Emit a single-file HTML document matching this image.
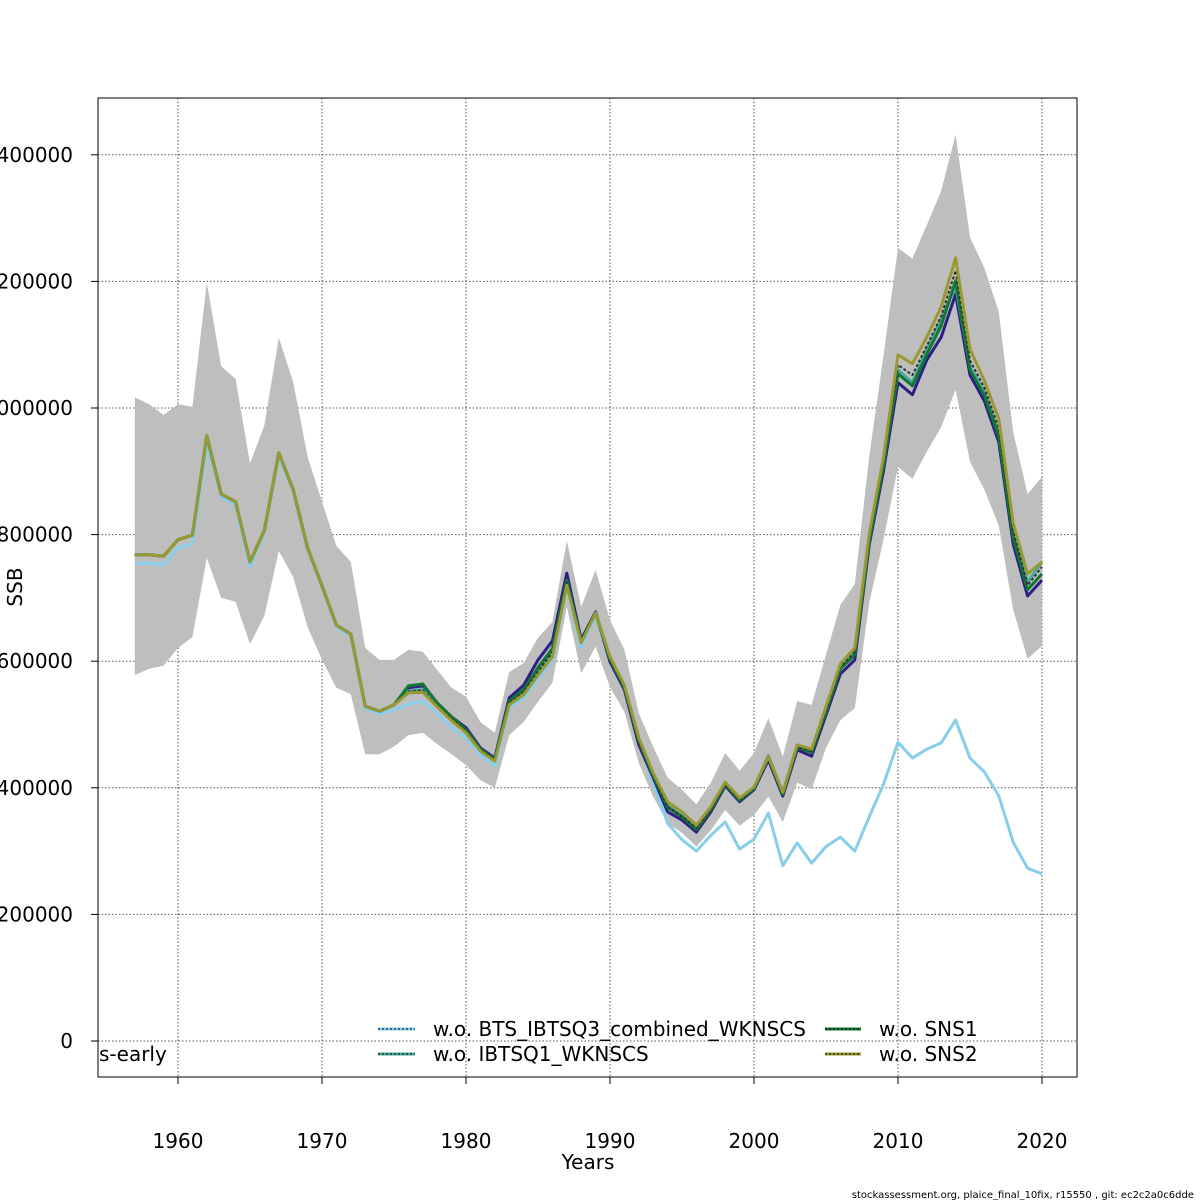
<!DOCTYPE html>
<html><head><meta charset="utf-8"><style>
html,body{margin:0;padding:0;background:#fff}
svg{display:block;font-family:"DejaVu Sans","Liberation Sans",sans-serif}
</style></head><body>
<svg id="chart" width="1200" height="1200" viewBox="0 0 1200 1200" xmlns="http://www.w3.org/2000/svg">
<g id="grid"></g>
<g id="band"></g>
<g id="lines"></g>
<rect x="98" y="98" width="979" height="979" fill="none" stroke="#000" stroke-width="1"/>
<g id="axes" font-size="20" fill="#000"></g>
<text x="588" y="1169" font-size="20" text-anchor="middle">Years</text>
<text transform="translate(22,587) rotate(-90)" font-size="20" text-anchor="middle">SSB</text>
<text x="99" y="1061" font-size="20">s-early</text>
<g font-size="20">
 <g><line x1="378" y1="1029" x2="415" y2="1029" stroke="#87ceeb" stroke-width="3"/><line x1="378" y1="1029" x2="415" y2="1029" stroke="#000" stroke-width="1" stroke-dasharray="2,2"/><text x="433" y="1036">w.o. BTS_IBTSQ3_combined_WKNSCS</text></g>
 <g><line x1="378" y1="1054" x2="415" y2="1054" stroke="#44aa99" stroke-width="3"/><line x1="378" y1="1054" x2="415" y2="1054" stroke="#000" stroke-width="1" stroke-dasharray="2,2"/><text x="433" y="1061">w.o. IBTSQ1_WKNSCS</text></g>
 <g><line x1="825" y1="1029" x2="861" y2="1029" stroke="#117733" stroke-width="3"/><line x1="825" y1="1029" x2="861" y2="1029" stroke="#000" stroke-width="1" stroke-dasharray="2,2"/><text x="879" y="1036">w.o. SNS1</text></g>
 <g><line x1="825" y1="1054" x2="861" y2="1054" stroke="#999933" stroke-width="3"/><line x1="825" y1="1054" x2="861" y2="1054" stroke="#000" stroke-width="1" stroke-dasharray="2,2"/><text x="879" y="1061">w.o. SNS2</text></g>
</g>
<text x="1194" y="1198" font-size="10" text-anchor="end">stockassessment.org, plaice_final_10fix, r15550 , git: ec2c2a0c6dde</text>
</svg>
<script>
// values in thousands of tonnes
const firstYear = 1957;
const xTicks = [1960,1970,1980,1990,2000,2010,2020];
const yTicks = [0,200,400,600,800,1000,1200,1400];
const yTickLabels = ["0","200000","400000","600000","800000","1000000","1200000","1400000"];
const upper = [1017,1006,989,1006,1002,1198,1066,1046,912,973,1111,1041,923,852,782,757,621,602,602,618,615,586,558,544,504,487,583,597,637,662,790,686,744,665,618,518,465,416,397,374,408,455,427,455,510,449,537,531,610,689,722,923,1084,1253,1236,1289,1343,1432,1270,1221,1152,962,864,891];
const lower = [578,588,593,621,638,763,700,694,627,672,774,733,654,602,558,548,453,453,465,483,487,469,453,436,412,400,483,504,536,566,686,581,623,559,520,439,386,344,329,307,333,365,340,357,386,346,408,398,463,507,526,692,793,907,888,931,970,1029,915,871,814,681,604,624];
const baseRun = [768,768,766,792,799,956,864,852,757,807,929,871,779,719,657,643,529,521,531,558,561,534,512,495,463,447,542,562,602,632,739,634,678,599,555,468,416,362,349,330,362,403,378,397,444,387,460,450,515,580,602,784,902,1040,1021,1076,1112,1180,1052,1011,946,785,703,728];
const woBTS = [754,755,752,779,785,943,860,847,749,804,924,867,776,716,654,640,526,517,523,532,537,517,495,479,452,435,526,542,572,602,716,621,673,599,555,472,408,344,318,300,325,346,303,319,360,277,313,281,307,322,300,354,406,472,447,461,471,507,447,425,387,314,273,264];
const woIBTSQ1 = [768,768,766,792,799,956,864,852,757,807,929,871,779,719,657,643,529,521,531,553,555,530,509,490,460,444,535,552,585,615,725,630,677,605,560,476,421,372,356,337,367,407,381,400,451,392,466,459,523,592,615,795,915,1060,1040,1092,1140,1193,1065,1025,960,805,725,757];
const woSNS1 = [768,768,766,792,799,956,864,852,757,807,929,871,779,719,657,643,529,521,531,561,564,534,512,492,461,445,537,555,590,620,728,631,676,603,558,474,419,369,354,334,366,405,380,399,448,390,464,456,520,588,610,790,910,1054,1035,1085,1130,1201,1060,1020,955,795,713,738];
const woSNS2 = [768,768,766,792,799,956,864,852,757,807,929,871,779,719,657,643,529,521,531,550,551,528,506,487,458,442,531,547,578,607,720,629,676,607,562,479,423,378,362,341,370,409,384,401,449,393,468,461,528,596,621,801,923,1084,1070,1112,1160,1237,1093,1043,983,818,738,757];
const woOther = [768,768,766,792,799,956,864,852,757,807,929,871,779,719,657,643,529,521,531,552,554,530,509,490,460,444,534,551,584,614,724,630,677,604,559,475,420,370,355,336,367,406,381,400,450,391,465,458,522,592,614,796,916,1068,1052,1098,1145,1217,1075,1032,968,805,720,749];

const NS='http://www.w3.org/2000/svg';
const xs = yr => 178 + (yr-1960)*14.4;
const ys = v => 1041 - v*126.6/200;
function mk(tag, attrs, parent){const e=document.createElementNS(NS,tag);for(const k in attrs)e.setAttribute(k,attrs[k]);parent.appendChild(e);return e;}
const grid=document.getElementById('grid'), axes=document.getElementById('axes');
xTicks.forEach(t=>{
  const g=mk('line',{x1:xs(t),x2:xs(t),y1:98,y2:1077,stroke:'#555','stroke-width':1,'stroke-dasharray':'1.5,2'},grid);
  
  
  const tk=mk('line',{x1:xs(t),x2:xs(t),y1:1077,y2:1084,stroke:'#000'},axes);
  
  
  const lb=mk('text',{x:xs(t),y:1148,'text-anchor':'middle'},axes);
  lb.textContent=t;
  
  
});
yTicks.forEach((t,i)=>{
  const g=mk('line',{x1:98,x2:1077,y1:ys(t),y2:ys(t),stroke:'#555','stroke-width':1,'stroke-dasharray':'1.5,2'},grid);
  
  
  const tk=mk('line',{x1:91,x2:98,y1:ys(t),y2:ys(t),stroke:'#000'},axes);
  
  
  const lb=mk('text',{x:73,y:ys(t)+7,'text-anchor':'end'},axes);
  lb.textContent=yTickLabels[i];
  
  
});
const band=document.getElementById('band');
let d='';
upper.forEach((v,i)=>{d+=(i?'L':'M')+xs(firstYear+i)+','+ys(v);});
for(let i=lower.length-1;i>=0;i--) d+='L'+xs(firstYear+i)+','+ys(lower[i]);
const bp=mk('path',{d:d+'Z',fill:'#bebebe',stroke:'none'},band);


const linesG=document.getElementById('lines');
function pts(arr){return arr.map((v,i)=>xs(firstYear+i)+','+ys(v)).join(' ');}
const series=[
 [woBTS,'#87ceeb','line-wo-bts',false],
 [baseRun,'#2d1f86','line-base-run',false],
 [woIBTSQ1,'#44aa99','line-wo-ibtsq1',false],
 [woSNS1,'#117733','line-wo-sns1',false],
 [woOther,'#333333','line-wo-other',true],
 [woSNS2,'#999933','line-wo-sns2',false]
];
series.forEach(s=>{
  const p=mk('polyline',{points:pts(s[0]),fill:'none',stroke:s[1],'stroke-width':s[3]?2:3,'stroke-linejoin':'round'},linesG);
  if(s[3]) p.setAttribute('stroke-dasharray','3,2');
  
  
});
</script>
</body></html>
